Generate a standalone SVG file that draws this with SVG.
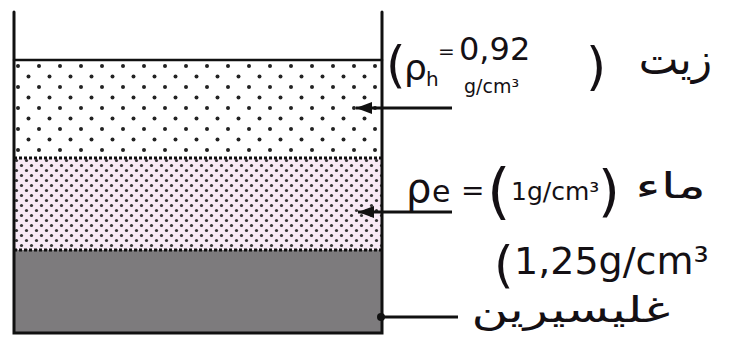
<svg xmlns="http://www.w3.org/2000/svg" width="734" height="350" viewBox="0 0 734 350">
<defs>
<pattern id="oilDots" x="14" y="60" width="21" height="21" patternUnits="userSpaceOnUse">
<circle cx="4" cy="6" r="2" fill="#222"/>
<circle cx="14.5" cy="16.5" r="2" fill="#222"/>
</pattern>
<pattern id="waterDots" x="14" y="158" width="10" height="10" patternUnits="userSpaceOnUse">
<circle cx="2.5" cy="2.5" r="1.6" fill="#333"/>
<circle cx="7.5" cy="7.5" r="1.6" fill="#333"/>
</pattern>
<marker id="arrow" markerWidth="16" markerHeight="12" refX="16" refY="6" orient="auto" markerUnits="userSpaceOnUse">
<path d="M0,0 L16,6 L0,12 Z" fill="#111"/>
</marker>
<style>
.wall{stroke:#111;stroke-width:3;fill:none;stroke-linecap:round}
.bound{stroke:#111;stroke-width:3;stroke-dasharray:3 2}
.lead{stroke:#111;stroke-width:3;fill:none}
.t{font-family:"DejaVu Sans","Noto Sans",sans-serif;fill:#141014}
.ar{font-family:"DejaVu Sans","Noto Sans",sans-serif;fill:#141014}
</style>
</defs>

<g id="oil-layer">
<rect x="14" y="60" width="368" height="98" fill="#ffffff"/>
<rect x="14" y="60" width="368" height="98" fill="url(#oilDots)"/>
</g>
<g id="water-layer">
<rect x="14" y="158" width="368" height="92" fill="#f8eaf6"/>
<rect x="14" y="158" width="368" height="92" fill="url(#waterDots)"/>
</g>
<g id="glycerin-layer">
<rect x="14" y="250" width="368" height="83" fill="#7d7b7d"/>
</g>

<g id="container">
<line class="wall" x1="14" y1="60" x2="382" y2="60" style="stroke-width:2.5"/>
<line class="bound" x1="14" y1="158" x2="382" y2="158"/>
<line class="bound" x1="14" y1="250" x2="382" y2="250"/>
<polyline class="wall" points="14,12 14,333 382,333 382,12"/>
</g>

<g id="connectors">
<line class="lead" x1="452" y1="108" x2="356" y2="108" marker-end="url(#arrow)"/>
<line class="lead" x1="452" y1="212" x2="358" y2="212" marker-end="url(#arrow)"/>
<line class="lead" x1="458" y1="317" x2="378" y2="317"/>
<circle cx="381" cy="317" r="4" fill="#111"/>
</g>

<g id="label-oil">
<text class="t" x="386" y="82" font-size="50">(</text>
<text class="t" x="404" y="80" font-size="36">ρ</text>
<text class="t" x="426" y="86" font-size="20">h</text>
<text class="t" x="438" y="58" font-size="20">=</text>
<text class="t" x="459" y="60" font-size="32">0,92</text>
<text class="t" x="464" y="93" font-size="19">g/cm³</text>
<text class="t" x="586" y="84" font-size="52">)</text>
<text class="ar" x="712" y="74" font-size="42" direction="rtl" text-anchor="start">زيت</text>
</g>

<g id="label-water">
<text class="t" x="406" y="202" font-size="40">ρ</text>
<text class="t" x="432" y="202" font-size="30">e</text>
<text class="t" x="461" y="200" font-size="28">=</text>
<text class="t" x="487" y="212" font-size="60">(</text>
<text class="t" x="511" y="200" font-size="25">1g/cm³</text>
<text class="t" x="598" y="210" font-size="56">)</text>
<text class="ar" font-size="36" direction="rtl" text-anchor="start" transform="translate(706,198) scale(1.5,1)">ماء</text>
</g>

<g id="label-glycerin">
<text class="t" x="494" y="282" font-size="50">(</text>
<text class="t" x="514" y="274" font-size="38">1,25g/cm³</text>
<text class="ar" font-size="36" direction="rtl" text-anchor="start" transform="translate(670,322) scale(1.4,1)">غليسيرين</text>
</g>
</svg>
